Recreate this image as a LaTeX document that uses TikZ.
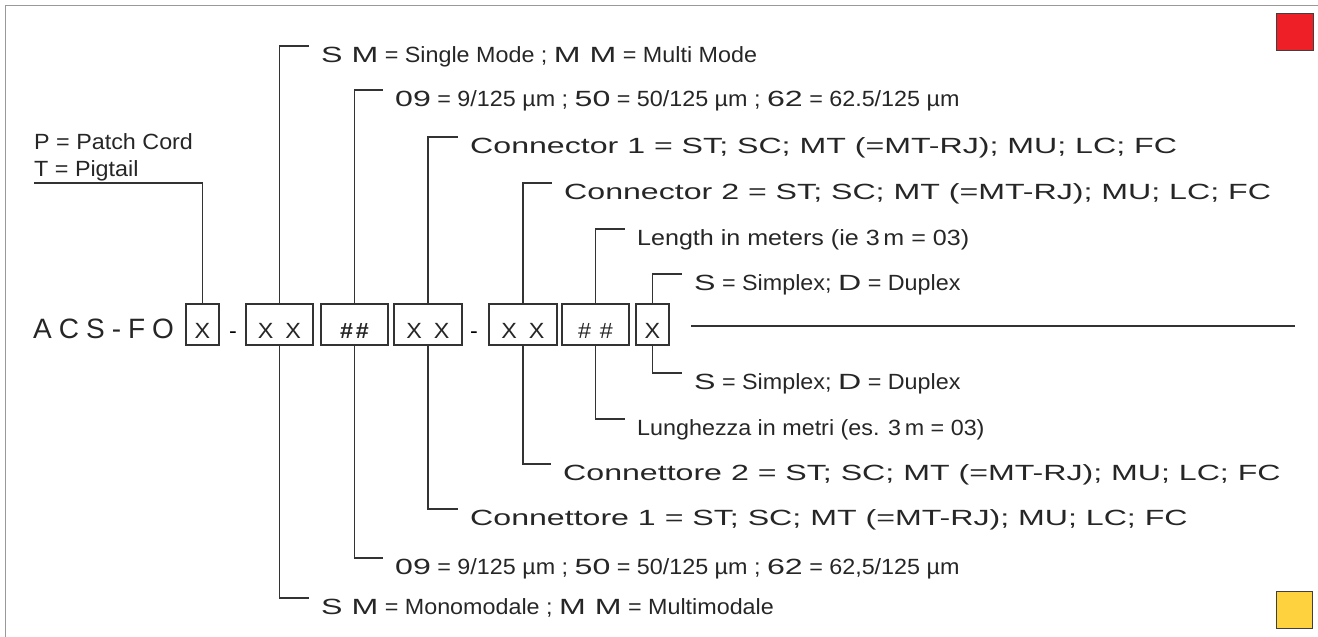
\documentclass[tikz,border=0pt]{standalone}
\usepackage{fontspec}
\setmainfont[FakeStretch=1.06]{Liberation Sans}
\newfontfamily\widefont[FakeStretch=1.46]{Liberation Sans}
\newfontfamily\codefont[LetterSpace=25]{Liberation Sans}
\newfontfamily\lenfont[FakeStretch=1.14]{Liberation Sans}
\newcommand\wtxt[1]{{\widefont #1}}
\definecolor{sqred}{HTML}{EE1F26}
\definecolor{sqyel}{HTML}{FDD23E}

\begin{document}
\begin{tikzpicture}[x=1pt, y=-1pt,
  line/.style={black!80, line width=1.1pt},
  box/.style={draw=black!80, line width=1.1pt, inner sep=0pt,
    text height=34pt, text depth=7pt, text=black!85,
    font=\fontsize{22}{26}\selectfont},
  lbl/.style={anchor=north west, inner xsep=12pt, inner ysep=0pt,
    text height=16pt, text depth=5pt, text=black!85,
    font=\fontsize{22}{26}\selectfont},
  wlbl/.style={lbl, font=\fontsize{22}{26}\widefont}]
  \useasboundingbox (0,0) rectangle (1318,637);
  \draw[black!40, line width=1pt] (1318,5) -- (5,5) -- (5,637);
  \filldraw[fill=sqred, draw=black!75, line width=1pt] (1276,13) rectangle (1313,50);
  \filldraw[fill=sqyel, draw=black!75, line width=1pt] (1276,591) rectangle (1312,628);
  % Code.
  \node[anchor=base west, inner sep=0pt, text=black!85,
    font=\fontsize{28}{32}\codefont] (code) at (33,338) {ACS-FO};
  \node[box, minimum width=33pt] (b1) at (202.5,324.5) {X};
  \node[anchor=base, font=\fontsize{22}{26}\selectfont] (d1) at (233,338) {-};
  \node[box, minimum width=67pt] (b2) at (279.5,324.5) {X\hspace{12pt}X};
  \node[box, minimum width=67pt] (b3) at (354.5,324.5) {\bfseries\#\hspace{3pt}\#};
  \node[box, minimum width=68pt] (b4) at (428,324.5) {X\hspace{12pt}X\hspace{21pt}};
  \node[anchor=base, font=\fontsize{22}{26}\selectfont] (d2) at (474,338) {-};
  \node[box, minimum width=68pt] (b5) at (523,324.5) {X\hspace{12pt}X};
  \node[box, minimum width=67pt] (b6) at (595.5,324.5) {\#\hspace{9pt}\#};
  \node[box, minimum width=33pt] (b7) at (652.5,324.5) {X};
  \draw[line] (691,326) -- (1295,326);
  % English, above.
  \node[align=left, anchor=south west, inner xsep=0pt, inner ysep=1.5pt,
    text=black!85, font=\fontsize{22}{27}\selectfont] (pt) at (34,183)
    {P = Patch Cord\\T = Pigtail};
  \node[lbl] (smU) at (309,46) {\wtxt{S M} = Single Mode ; \wtxt{M M} = Multi Mode};
  \node[lbl] (nineU) at (383,90) {\wtxt{09} = 9/125 µm ; \wtxt{50} = 50/125 µm ; \wtxt{62} = 62.5/125 µm};
  \node[wlbl] (conU1) at (458,137) {Connector 1 = ST; SC; MT (=MT-RJ); MU; LC; FC};
  \node[wlbl] (conU2) at (552,183) {Connector 2 = ST; SC; MT (=MT-RJ); MU; LC; FC};
  \node[lbl, font=\fontsize{22}{26}\lenfont] (lenU) at (625,229) {Length in meters (ie 3\,m = 03)};
  \node[lbl] (splxU) at (682,274) {\wtxt{S} = Simplex; \wtxt{D} = Duplex};
  \draw[line] (b1.north) |- (pt.south west);
  \draw[line] (b2.north) |- (smU.north west);
  \draw[line] (b3.north) |- (nineU.north west);
  \draw[line] (b4.north) |- (conU1.north west);
  \draw[line] (b5.north) |- (conU2.north west);
  \draw[line] (b6.north) |- (lenU.north west);
  \draw[line] (b7.north) |- (splxU.north west);
  % Italian, below.
  \node[lbl] (splxL) at (682,373) {\wtxt{S} = Simplex; \wtxt{D} = Duplex};
  \node[lbl] (lenL) at (625,419) {Lunghezza in metri (es. 3\,m = 03)};
  \node[wlbl] (conL2) at (551,464) {Connettore 2 = ST; SC; MT (=MT-RJ); MU; LC; FC};
  \node[wlbl] (conL1) at (458,509) {Connettore 1 = ST; SC; MT (=MT-RJ); MU; LC; FC};
  \node[lbl] (nineL) at (383,558) {\wtxt{09} = 9/125 µm ; \wtxt{50} = 50/125 µm ; \wtxt{62} = 62,5/125 µm};
  \node[lbl] (smL) at (309,598) {\wtxt{S M} = Monomodale ; \wtxt{M M} = Multimodale};
  \draw[line] (b7.south) |- (splxL.north west);
  \draw[line] (b6.south) |- (lenL.north west);
  \draw[line] (b5.south) |- (conL2.north west);
  \draw[line] (b4.south) |- (conL1.north west);
  \draw[line] (b3.south) |- (nineL.north west);
  \draw[line] (b2.south) |- (smL.north west);
\end{tikzpicture}
\end{document}
